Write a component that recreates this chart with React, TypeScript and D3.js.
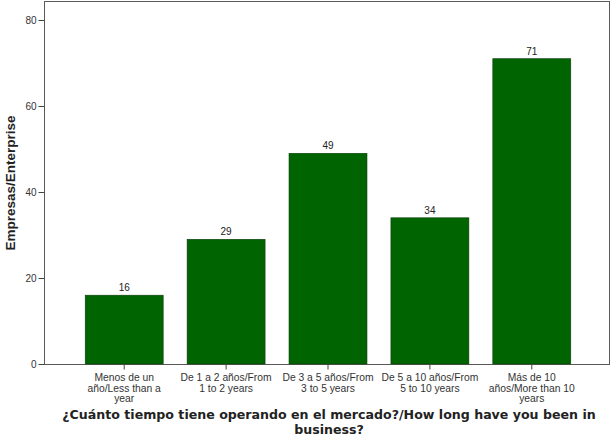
import { useRef, useEffect } from 'react'
import * as d3 from 'd3'

const categories = [
  ['Menos de un', 'año/Less than a', 'year'],
  ['De 1 a 2 años/From', '1 to 2 years'],
  ['De 3 a 5 años/From', '3 to 5 years'],
  ['De 5 a 10 años/From', '5 to 10 years'],
  ['Más de 10', 'años/More than 10', 'years'],
]
const values = [16, 29, 49, 34, 71]
const yTicks = [0, 20, 40, 60, 80]
const yAxisLabel = 'Empresas/Enterprise'
const xAxisLabel = [
  '¿Cuánto tiempo tiene operando en el mercado?/How long have you been in',
  'business?',
]

const App = () => {
  const svgRef = useRef<SVGSVGElement>(null)

  useEffect(() => {
    const svg = d3.select(svgRef.current)
    svg.selectAll('*').remove()

    const font = 'Liberation Sans, Arial, sans-serif'
    const frame = { left: 44.5, right: 609.5, top: 1.5, bottom: 364.5 }

    const ids = categories.map((_, i) => String(i))
    const x = d3.scaleBand().domain(ids).range([73, 583]).paddingInner(0.235).paddingOuter(0.12)
    const y = d3.scaleLinear().domain([0, 80]).range([364, 20])

    svg
      .append('rect')
      .attr('x', frame.left)
      .attr('y', frame.top)
      .attr('width', frame.right - frame.left)
      .attr('height', frame.bottom - frame.top)
      .attr('fill', 'white')
      .attr('stroke', '#5a5a5a')
      .attr('stroke-width', 1)

    // bars
    svg
      .append('g')
      .selectAll('rect')
      .data(values)
      .join('rect')
      .attr('x', (_, i) => x(String(i))!)
      .attr('y', (d) => y(d))
      .attr('width', x.bandwidth())
      .attr('height', (d) => y(0) - y(d))
      .attr('fill', '#006400')
      .attr('stroke', '#0b3d0b')
      .attr('stroke-width', 0.6)

    // value labels
    svg
      .append('g')
      .selectAll('text')
      .data(values)
      .join('text')
      .attr('x', (_, i) => x(String(i))! + x.bandwidth() / 2)
      .attr('y', (d) => y(d) - 4)
      .attr('text-anchor', 'middle')
      .attr('font-family', font)
      .attr('font-size', 10)
      .attr('fill', '#222')
      .text((d) => d)

    // y axis
    const yAxis = d3.axisLeft(y).tickValues(yTicks).tickSize(6).tickPadding(2)
    const yG = svg.append('g').attr('transform', `translate(${frame.left},0)`).call(yAxis)
    yG.select('.domain').remove()
    yG.selectAll('.tick line').attr('stroke', '#444')
    yG.selectAll('.tick text').attr('font-family', font).attr('font-size', 10).attr('fill', '#333')

    // x axis
    const xAxis = d3.axisBottom(x).tickSize(5).tickFormat(() => '')
    const xG = svg.append('g').attr('transform', `translate(0,${frame.bottom})`).call(xAxis)
    xG.select('.domain').remove()
    xG.selectAll('.tick line').attr('stroke', '#444')

    // category labels
    const catG = svg.append('g')
    categories.forEach((lines, i) => {
      const t = catG
        .append('text')
        .attr('text-anchor', 'middle')
        .attr('font-family', font)
        .attr('font-size', 10.3)
        .attr('fill', '#333')
      lines.forEach((line, j) => {
        t.append('tspan')
          .attr('x', x(String(i))! + x.bandwidth() / 2)
          .attr('y', 381 + j * 10.5)
          .text(line)
      })
    })

    // axis titles
    svg
      .append('text')
      .attr('transform', `translate(15,${(frame.top + frame.bottom) / 2}) rotate(-90)`)
      .attr('text-anchor', 'middle')
      .attr('font-family', font)
      .attr('font-weight', 'bold')
      .attr('font-size', 13.5)
      .attr('fill', '#222')
      .text(yAxisLabel)

    const xt = svg
      .append('text')
      .attr('text-anchor', 'middle')
      .attr('font-family', 'DejaVu Sans, Verdana, sans-serif')
      .attr('font-weight', 'bold')
      .attr('font-size', 12.6)
      .attr('fill', '#222')
    xAxisLabel.forEach((line, j) => {
      xt.append('tspan').attr('x', 329).attr('y', 419 + j * 15).text(line)
    })
  }, [])

  return (
    <div style={{ position: 'fixed', left: 0, top: 0 }}>
      <svg width={612} height={436} ref={svgRef} style={{ display: 'block', background: 'white' }}></svg>
    </div>
  )
}

export default App
